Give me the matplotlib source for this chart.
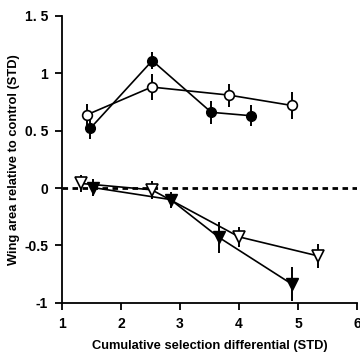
import matplotlib.pyplot as plt

plt.rcParams['font.family'] = ['Liberation Sans', 'DejaVu Sans']

# upper panel: circles
filled_circle_x = [1.48, 2.53, 3.53, 4.21]
filled_circle_y = [0.52, 1.11, 0.66, 0.63]
filled_circle_err = [0.09, 0.075, 0.10, 0.09]

open_circle_x = [1.43, 2.52, 3.83, 4.89]
open_circle_y = [0.64, 0.88, 0.81, 0.72]
open_circle_err = [0.09, 0.11, 0.10, 0.12]

# lower panel: down triangles
open_tri_x = [1.33, 2.52, 4.00, 5.33]
open_tri_y = [0.04, -0.015, -0.425, -0.59]
open_tri_err = [0.07, 0.08, 0.09, 0.105]

filled_tri_x = [1.52, 2.84, 3.66, 4.89]
filled_tri_y = [0.005, -0.10, -0.43, -0.835]
filled_tri_err = [0.07, 0.07, 0.135, 0.15]

xticks = [1, 2, 3, 4, 5, 6]
yticks = [-1, -0.5, 0, 0.5, 1, 1.5]
ytick_labels = ['-1', '-0.5', '0', '0. 5', '1', '1. 5']

fig = plt.figure(figsize=(3.6, 3.53), dpi=100)
ax = fig.add_axes([0.172, 0.142, 0.82, 0.813])

ax.axhline(0, color='black', linestyle=(0, (2, 1.6)), linewidth=2, zorder=1)

common = dict(color='black', ecolor='black', elinewidth=1.4, capsize=0, linewidth=1.2, zorder=3)
ax.errorbar(open_circle_x, open_circle_y, yerr=open_circle_err, fmt='-o',
            markerfacecolor='white', markeredgecolor='black', markersize=7, markeredgewidth=1.2, **common)
ax.errorbar(filled_circle_x, filled_circle_y, yerr=filled_circle_err, fmt='-o',
            markerfacecolor='black', markeredgecolor='black', markersize=7, **common)
ax.errorbar(open_tri_x, open_tri_y, yerr=open_tri_err, fmt='-v',
            markerfacecolor='white', markeredgecolor='black', markersize=8, markeredgewidth=1.2, **common)
ax.errorbar(filled_tri_x, filled_tri_y, yerr=filled_tri_err, fmt='-v',
            markerfacecolor='black', markeredgecolor='black', markersize=8, **common)

ax.set_xlim(1, 6)
ax.set_ylim(-1, 1.5)
ax.set_xticks(xticks)
ax.set_yticks(yticks)
ax.set_yticklabels(ytick_labels)
ax.spines['top'].set_visible(False)
ax.spines['right'].set_visible(False)
ax.spines['left'].set_linewidth(1.3)
ax.spines['bottom'].set_linewidth(1.3)
ax.tick_params(direction='out', length=5, width=1.3, labelsize=10, pad=5)
for lab in ax.get_xticklabels() + ax.get_yticklabels():
    lab.set_fontweight('bold')

ax.set_xlabel('Cumulative selection differential (STD)', fontsize=9.3, fontweight='bold', labelpad=7)
ax.set_ylabel('Wing area relative to control (STD)', fontsize=9.3, fontweight='bold', labelpad=3)

fig.savefig('out.png', dpi=100)
